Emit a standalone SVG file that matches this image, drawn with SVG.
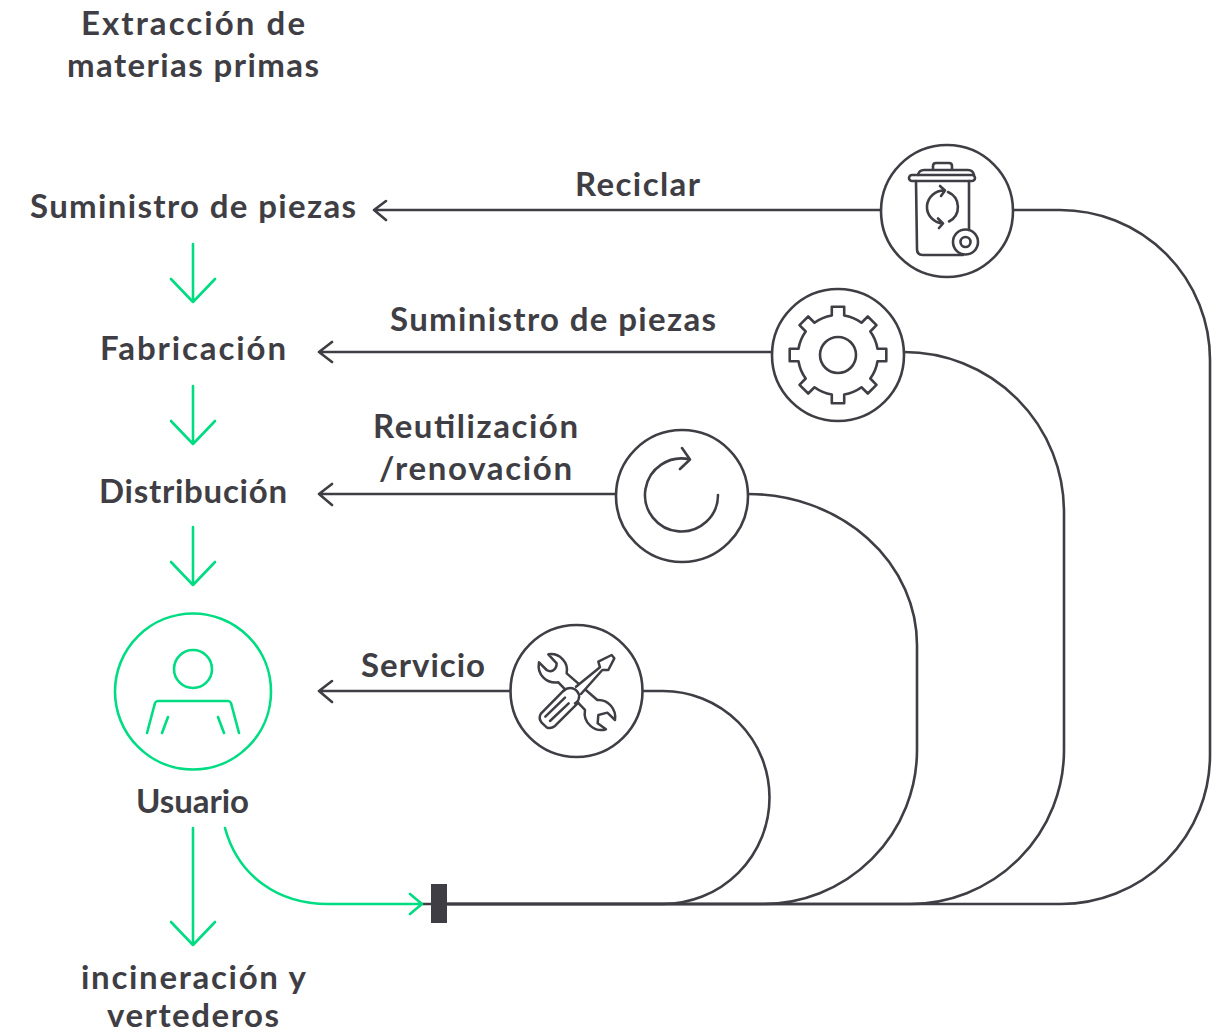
<svg xmlns="http://www.w3.org/2000/svg" width="1221" height="1034" viewBox="0 0 1221 1034">
<style>
text{font-family:"Lato","Noto Sans",sans-serif;font-size:33px;font-weight:700;fill:#3f3e44}
.d{fill:none;stroke:#3f3e44;stroke-width:2.6;stroke-linecap:round;stroke-linejoin:round}
.g{fill:none;stroke:#00dc82;stroke-width:2.6;stroke-linecap:round;stroke-linejoin:round}
.c{fill:#fff;stroke:#3f3e44;stroke-width:2.6}
</style>
<rect width="1221" height="1034" fill="#fff"/>
<g id="connectors">
<path class="d" d="M1013 210H1060A150 150 0 0 1 1210 360V755A149 149 0 0 1 1061 904H447"/>
<path class="d" d="M904 352A160 160 0 0 1 1064 512V750A154 154 0 0 1 910 904H447"/>
<path class="d" d="M748 494A169 151 0 0 1 917 645V750A154 154 0 0 1 763 904H447"/>
<path class="d" d="M643 691H663A106.500 106.500 0 0 1 663 904H447"/>
<path class="d" d="M880 210H374M386 201L374 210L386 220"/>
<path class="d" d="M771 352H319M332 342L319 352L332 362"/>
<path class="d" d="M615 494H319M332 484L319 494L332 505"/>
<path class="d" d="M510 691H319M332 681L319 691L332 702"/>
<path class="g" d="M193 244V302M171 279L193 302L215 279"/>
<path class="g" d="M193 386V444M171 421L193 444L215 421"/>
<path class="g" d="M193 527V585M171 562L193 585L215 562"/>
<path class="g" d="M193 828V945M171 922L193 945L215 922"/>
<path class="d" d="M420 904H431"/>
<path class="g" d="M225 828C238 876 278 904 328 904H422M410 894L422 904L410 914"/>
</g>
<g id="node-junction"><rect x="431" y="884" width="16" height="39" fill="#3f3e44"/></g>
<g id="node-extraccion">
<text x="81" y="35" textLength="224">Extracción de</text>
<text x="67" y="77" textLength="252">materias primas</text>
</g>
<g id="node-suministro"><text x="30" y="218" textLength="326">Suministro de piezas</text></g>
<g id="node-fabricacion"><text x="100" y="360" textLength="186">Fabricación</text></g>
<g id="node-distribucion"><text x="99" y="503" textLength="188">Distribución</text></g>
<g id="node-usuario">
<circle class="g" cx="193" cy="691.500" r="78"/>
<circle class="g" cx="193" cy="669" r="19"/>
<path class="g" d="M147 733L155 703Q156 701 158 701H228Q230 701 231 703L239 733M162 733L168 717M218 717L224 733"/>
<text x="136" y="813" textLength="113">Usuario</text>
</g>
<g id="node-incineracion">
<text x="81" y="989" textLength="225">incineración y</text>
<text x="107" y="1027" textLength="172">vertederos</text>
</g>
<g id="node-reciclar">
<circle class="c" cx="947" cy="211" r="66"/>
<path class="d" d="M933 170V166Q933 163 936 163H949Q952 163 952 166V170M918 175Q919 170 924 170H968Q973 170 974 175"/>
<rect class="d" x="909" y="175" width="66" height="6" rx="3"/>
<path class="d" d="M916 181L917 249Q917 255 923 255H963M969 181V230"/>
<circle class="d" cx="965.500" cy="242" r="12.500"/>
<circle class="d" cx="965.500" cy="242" r="5"/>
<path class="d" d="M945 190.500A17 16.500 0 1 0 943 223.500M940 186L945 190.500L941 196M938 218.500L943 223.500L939 228"/>
<path class="d" d="M948 192A17 16.500 0 0 1 949 221.500"/>
<text x="575" y="196" textLength="125">Reciclar</text>
</g>
<g id="node-suministro-loop">
<circle class="c" cx="838" cy="355" r="66"/>
<circle class="d" cx="838" cy="355" r="18"/>
<path class="d" transform="translate(838 355)" d="M-6.200 -39.500V-48.300H6.200V-39.500A40 40 0 0 1 23.500 -32.300L29.800 -38.500L38.500 -29.800L32.300 -23.500A40 40 0 0 1 39.500 -6.200H48.300V6.200H39.500A40 40 0 0 1 32.300 23.500L38.500 29.800L29.800 38.500L23.500 32.300A40 40 0 0 1 6.200 39.500V48.300H-6.200V39.500A40 40 0 0 1 -23.500 32.300L-29.800 38.500L-38.500 29.800L-32.300 23.500A40 40 0 0 1 -39.500 6.200H-48.300V-6.200H-39.500A40 40 0 0 1 -32.300 -23.500L-38.500 -29.800L-29.800 -38.500L-23.500 -32.300A40 40 0 0 1 -6.200 -39.500Z"/>
<text x="390" y="331" textLength="326">Suministro de piezas</text>
</g>
<g id="node-reutilizacion">
<circle class="c" cx="682" cy="496" r="66"/>
<path class="d" d="M718 495A36.500 36.500 0 1 1 690 459.500M682 448L690 459.500L680 469"/>
<text x="373" y="438" textLength="205">Reutilización</text>
<text x="379" y="480" textLength="193">/renovación</text>
</g>
<g id="node-servicio">
<circle class="c" cx="576.500" cy="691" r="66"/>
<g transform="translate(500 620) scale(.3333)" fill="none" stroke="#3f3e44" stroke-width="7.500" stroke-linecap="round" stroke-linejoin="round">
<path d="M145 103C178 98 207 127 200 160L292 240C325 238 350 268 345 300L322 278L295 285L293 310L318 328C285 338 248 310 255 270L175 187C140 192 110 165 117 127L140 150C152 158 170 152 170 130Z" fill="#fff"/>
<path d="M190 213L122 282Q115 295 125 308L140 322Q152 328 165 318L235 248" fill="#fff"/>
<path d="M136 290L195 233M150 303L206 250"/>
<path d="M190 213Q205 198 225 208Q243 222 235 240Q232 246 225 250" fill="#fff"/>
<path d="M228 200L300 142L295 125L335 105L343 115L325 150L307 150L243 222" fill="#fff"/>
</g>
<text x="361" y="677" textLength="124">Servicio</text>
</g>
</svg>
